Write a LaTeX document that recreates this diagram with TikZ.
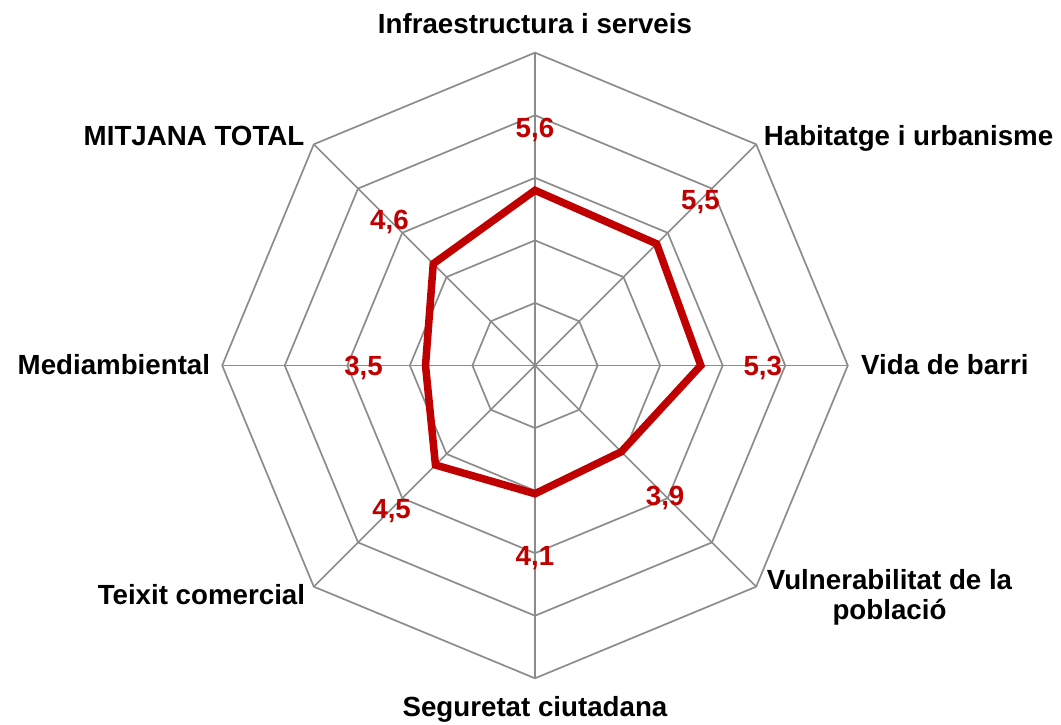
\documentclass[tikz,border=0pt]{standalone}
\usepackage{fontspec}
\setmainfont{Liberation Sans}
\usepackage{xcolor}
\definecolor{gridgray}{HTML}{8C8C8C}
\definecolor{barrired}{HTML}{C00000}

\begin{document}
\begin{tikzpicture}[x=1bp, y=1bp,
    font=\fontsize{27.7bp}{30bp}\selectfont\bfseries,
    gridline/.style={draw=gridgray, line width=1.7bp},
    valueline/.style={draw=barrired, line width=7.5bp},
    valuelabel/.style={text=barrired, inner sep=0pt, text depth=0pt},
    axislabel/.style={inner sep=0pt}]
    \useasboundingbox (-535,-359.5) rectangle (526,365.5);
    \coordinate (centre) at (0,0);

    % rings and axes
    \foreach \k in {1,...,5} {
        \pgfmathsetmacro\r{\k*62.56}
        \draw[gridline] (0:\r) -- (45:\r) -- (90:\r) -- (135:\r) -- (180:\r)
            -- (225:\r) -- (270:\r) -- (315:\r) -- cycle;
    }
    \foreach \a [count=\i from 0] in {90,45,0,-45,-90,-135,-180,-225} {
        \coordinate (edge\i) at (\a:312.8);
        \draw[gridline] (centre) -- (edge\i);
    }

    % values
    \foreach \v/\t [count=\i from 0] in {5.6/5{,}6, 5.5/5{,}5, 5.3/5{,}3, 3.9/3{,}9,
                                          4.1/4{,}1, 4.5/4{,}5, 3.5/3{,}5, 4.6/4{,}6} {
        \pgfmathsetmacro\ang{90-45*\i}
        \pgfmathsetmacro\rad{\v*31.28}
        \pgfmathsetmacro\lrad{\rad+62}
        \coordinate (point\i) at (\ang:\rad);
        \node[valuelabel] (value\i) at (\ang:\lrad) {\t};
    }
    \draw[valueline] (point0) \foreach \i in {1,...,7} {-- (point\i)} -- cycle;

    % axis names
    \node[axislabel, anchor=base] (infra) at (0,332.2) {Infraestructura i serveis};
    \node[axislabel, anchor=base west] (habitatge) at (228.7,219.8) {Habitatge i urbanisme};
    \node[axislabel, anchor=base west] (vida) at (326,-9.5) {Vida de barri};
    \node[axislabel, align=center, anchor=north] (vulnerabilitat) at (354.5,-203.8) {Vulnerabilitat de la\\població};
    \node[axislabel, anchor=base] (seguretat) at (0,-351.2) {Seguretat ciutadana};
    \node[axislabel, anchor=base east] (teixit) at (-229.7,-239.5) {Teixit comercial};
    \node[axislabel, anchor=base east] (medi) at (-324.7,-9.5) {Mediambiental};
    \node[axislabel, anchor=base east] (mitjana) at (-230.5,219.8) {MITJANA TOTAL};
\end{tikzpicture}
\end{document}
